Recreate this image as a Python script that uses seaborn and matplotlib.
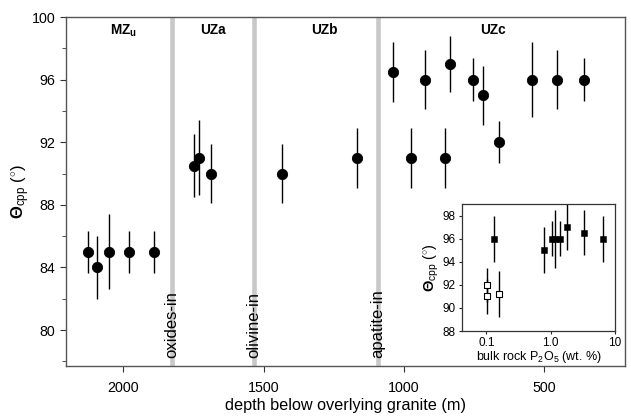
import seaborn as sns
import pandas as pd
import numpy as np
import matplotlib
matplotlib.use("Agg")
import matplotlib.pyplot as plt

# main panel: depth below granite (m) vs theta_cpp (deg) with 1-sigma bars
depth = [2125, 2094, 2052, 1980, 1890,
         1747, 1730, 1689,
         1436, 1166,
         1039, 974, 923, 855, 836, 754, 718, 661, 545, 455, 359]
theta = [85, 84, 85, 85, 85,
         90.5, 91, 90,
         90, 91,
         96.5, 91, 96, 91, 97, 96, 95, 92, 96, 96, 96]
theta_err = [1.35, 2.0, 2.4, 1.35, 1.35,
             2.0, 2.4, 1.9,
             1.9, 1.9,
             1.9, 1.9, 1.9, 1.9, 1.8, 1.35, 1.9, 1.35, 2.4, 1.9, 1.35]

# phase-in horizons
horizon_depth = [1827, 1535, 1093]
horizon_label = ["oxides-in", "olivine-in", "apatite-in"]

# zone labels
zone_label = [r"MZ$_\mathbf{u}$", "UZa", "UZb", "UZc"]
zone_depth = [2000, 1680, 1282, 683]

# inset: bulk rock P2O5 (wt. %) vs theta_cpp
p2o5 = [0.104, 0.104, 0.16, 0.134, 0.78, 1.05, 1.16, 1.38, 1.78, 3.3, 6.5]
theta_p = [92, 91, 91.2, 96, 95, 96, 96, 96, 97, 96.5, 96]
theta_p_err = [1.5, 1.5, 2.0, 2.0, 2.0, 1.5, 2.5, 1.5, 2.0, 1.95, 2.0]
filled = [False, False, False, True, True, True, True, True, True, True, True]

sns.set_style("ticks")
plt.rcParams["font.family"] = ["Liberation Sans", "DejaVu Sans"]
plt.rcParams["mathtext.fontset"] = "custom"
plt.rcParams["mathtext.rm"] = "Liberation Sans"
plt.rcParams["mathtext.bf"] = "Liberation Sans:bold"
plt.rcParams["mathtext.it"] = "Liberation Sans:italic"
plt.rcParams["text.color"] = "black"
plt.rcParams["axes.labelcolor"] = "black"

df = pd.DataFrame({"depth": depth, "theta": theta, "err": theta_err})
dfi = pd.DataFrame({"p2o5": p2o5, "theta": theta_p, "err": theta_p_err, "filled": filled})

fig = plt.figure(figsize=(6.31, 4.16), dpi=100)
ax = fig.add_axes([66 / 631, 1 - 366 / 416, (625 - 66) / 631, (366 - 17) / 416])

for d in horizon_depth:
    ax.axvline(d, color="#c8c8c8", lw=3.3, zorder=1)
for d, lab in zip(horizon_depth, horizon_label):
    ax.text(d, 78.18, lab, rotation=90, ha="center", va="bottom", fontsize=12, zorder=2)
for d, lab in zip(zone_depth, zone_label):
    ax.text(d, 99.15, lab, ha="center", va="center", fontsize=9.8, fontweight="bold")

ax.errorbar(df["depth"], df["theta"], yerr=df["err"], fmt="none", ecolor="k", elinewidth=1, zorder=3)
sns.scatterplot(data=df, x="depth", y="theta", ax=ax, color="k", s=55, edgecolor="k", zorder=4)

ax.set_xlim(2204, 212)
ax.set_ylim(77.7, 100)
ax.set_xticks([2000, 1500, 1000, 500])
ax.set_yticks([80, 84, 88, 92, 96, 100])
ax.set_yticks(np.arange(78, 100, 2), minor=True)
ax.tick_params(labelsize=10.3, colors="#333333", labelcolor="k", length=4)
ax.tick_params(axis="x", pad=7)
ax.tick_params(which="minor", length=3, colors="#333333")
for s in ax.spines.values():
    s.set_color("#555555")
    s.set_linewidth(1.0)
ax.set_xlabel("depth below overlying granite (m)", fontsize=11.7, labelpad=2)
ax.set_ylabel(r"$\mathbf{\Theta}_{\mathrm{cpp}}$ ($^{\circ}$)", fontsize=12, labelpad=0)

# inset
axi = fig.add_axes([462 / 631, 1 - 331 / 416, (615 - 462) / 631, (331 - 204) / 416])
dfo = dfi[~dfi["filled"]]
dff = dfi[dfi["filled"]]
axi.errorbar(dfi["p2o5"], dfi["theta"], yerr=dfi["err"], fmt="none", ecolor="k", elinewidth=1, zorder=2)
sns.scatterplot(data=dfo, x="p2o5", y="theta", ax=axi, marker="s", s=14, color="white",
                edgecolor="k", linewidth=0.8, zorder=3)
sns.scatterplot(data=dff, x="p2o5", y="theta", ax=axi, marker="s", s=22, color="k",
                edgecolor="k", zorder=3)
axi.set_xscale("log")
axi.set_xlim(0.042, 10)
axi.set_ylim(88, 99)
axi.set_xticks([0.1, 1, 10])
axi.set_xticklabels(["0.1", "1.0", "10"])
axi.minorticks_off()
axi.set_yticks([88, 90, 92, 94, 96, 98])
axi.tick_params(labelsize=8.5, length=2.5, pad=2, labelcolor="k")
axi.set_xlabel(r"bulk rock P$_2$O$_5$ (wt. %)", fontsize=9, labelpad=0)
axi.set_ylabel(r"$\mathbf{\Theta}_{\mathrm{cpp}}$ ($^{\circ}$)", fontsize=10.5, labelpad=1)
for s in axi.spines.values():
    s.set_color("#333333")
    s.set_linewidth(0.9)

fig.savefig("out.png", dpi=100)
